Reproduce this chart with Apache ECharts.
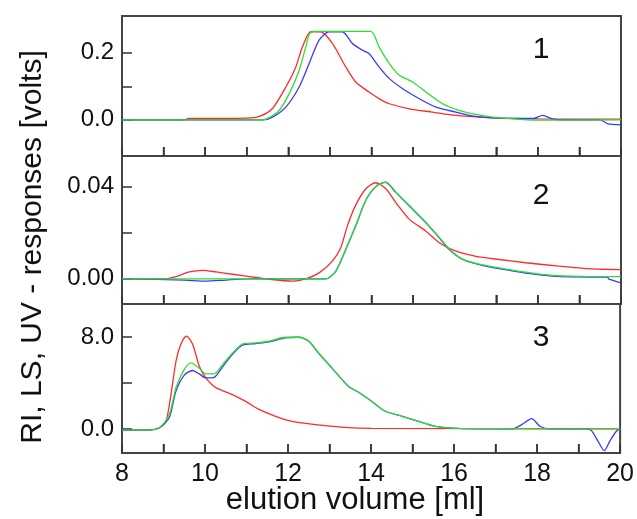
<!DOCTYPE html>
<html>
<head>
<meta charset="utf-8">
<script src="https://cdn.jsdelivr.net/npm/echarts@6/dist/echarts.min.js"></script>
<style>
html,body{margin:0;padding:0;background:#fff;}
#chart{width:637px;height:519px;background:#fff;}
</style>
</head>
<body>
<div id="chart"></div>
<script>
// ---- data (x = elution volume [ml], y = detector response) ----
var xTickStep = 1;
var xTickValues = [9,10,11,12,13,14,15,16,17,18,19];
var xLabelValues = [8,10,12,14,16,18,20];

var p1TickValues = [0, 0.1, 0.2];
var p1LabelValues = [0, 0.2];
var p2TickValues = [0, 0.02, 0.04];
var p2LabelValues = [0, 0.04];
var p3TickValues = [0, 4, 8];
var p3LabelValues = [0, 8];

var panelNames = ['1', '2', '3'];

var p1Red = [[8,0],[9.5,0],[9.6,0.004],[11.0,0.005],[11.3,0.01],[11.62,0.034],[11.94,0.098],[12.18,0.158],[12.34,0.218],[12.54,0.263],[12.78,0.263],[13.06,0.228],[13.38,0.158],[13.62,0.113],[13.94,0.083],[14.2,0.062],[14.43,0.048],[14.91,0.033],[15.47,0.023],[16.03,0.013],[16.91,0.006],[18,0.003],[20,0.002]];
var p1Green = [[8,0],[11.3,0],[11.46,0.002],[11.78,0.028],[12.06,0.088],[12.26,0.148],[12.42,0.218],[12.5,0.255],[12.6,0.264],[13.98,0.264],[14.18,0.218],[14.43,0.168],[14.67,0.133],[14.99,0.113],[15.31,0.083],[15.71,0.048],[16.11,0.028],[16.51,0.016],[16.91,0.008],[17.5,0.002],[17.87,-0.001],[20,0]];
var p1Blue = [[8,0],[11.4,0],[11.62,0.008],[11.94,0.038],[12.26,0.098],[12.5,0.168],[12.74,0.238],[12.98,0.263],[13.3,0.263],[13.54,0.228],[13.78,0.208],[13.94,0.198],[14.18,0.158],[14.43,0.123],[14.75,0.093],[15.15,0.063],[15.55,0.038],[16.03,0.023],[16.51,0.01],[17.07,0.005],[17.9,0.004],[18.11,0.013],[18.35,0.003],[18.6,0],[19.5,0],[19.67,-0.011],[20,-0.015]];

var p2Red = [[8,0],[9.0,0],[9.3,0.001],[9.62,0.003],[9.94,0.0037],[10.26,0.003],[10.66,0.002],[11.06,0.001],[11.46,0],[12.1,-0.001],[12.42,0],[12.74,0.0026],[13.06,0.0077],[13.26,0.0135],[13.42,0.023],[13.62,0.032],[13.86,0.039],[14.1,0.0417],[14.35,0.039],[14.59,0.033],[14.91,0.0258],[15.31,0.0207],[15.63,0.0157],[16.03,0.012],[16.51,0.0098],[17.07,0.0084],[17.71,0.007],[18.51,0.0055],[19.31,0.0043],[20,0.004]];
var p2Blue = [[8,0],[9.5,-0.0005],[10,-0.001],[10.5,-0.0005],[11,0],[12.9,0],[13.14,0.0033],[13.38,0.0127],[13.62,0.023],[13.86,0.034],[14.1,0.040],[14.33,0.042],[14.59,0.0374],[14.91,0.0316],[15.31,0.0243],[15.63,0.0178],[15.87,0.0127],[16.19,0.0084],[16.59,0.0062],[17.07,0.0044],[17.71,0.0025],[18.35,0.0012],[19.31,0.0008],[19.68,0.0008],[19.7,0],[20,-0.0017]];
var p2Green = [[8,0],[11,0],[12.9,0],[13.14,0.0033],[13.38,0.0127],[13.62,0.023],[13.86,0.034],[14.1,0.040],[14.35,0.042],[14.59,0.0376],[14.91,0.0318],[15.31,0.0245],[15.63,0.018],[15.87,0.013],[16.19,0.0086],[16.59,0.0064],[17.07,0.0048],[17.71,0.0029],[18.35,0.0015],[19.31,0.001],[20,0.001]];

var p3Red = [[8,-0.1],[8.6,-0.1],[8.9,0.1],[9.06,0.66],[9.18,3.0],[9.3,5.9],[9.42,7.4],[9.55,8.1],[9.7,7.4],[9.86,5.5],[10.02,4.45],[10.26,3.6],[10.66,3.0],[10.98,2.4],[11.3,1.7],[11.7,1.1],[12.1,0.66],[12.66,0.38],[13.46,0.11],[14.0,0.05],[20,0]];
var p3Blue = [[8,-0.1],[8.6,-0.1],[8.9,0.1],[9.14,1.0],[9.3,3.3],[9.5,4.7],[9.7,5.1],[9.86,4.8],[10.02,4.45],[10.22,4.5],[10.42,5.4],[10.66,6.5],[10.9,7.3],[11.22,7.45],[11.54,7.6],[11.94,7.95],[12.26,8.0],[12.5,7.65],[12.74,6.6],[13.06,5.3],[13.46,3.7],[13.7,3.2],[14.02,2.4],[14.34,1.54],[14.75,1.1],[15.15,0.66],[15.55,0.23],[16.1,0.05],[17.4,0],[17.63,0.38],[17.87,0.9],[18.07,0.23],[18.3,0],[19.2,0],[19.31,-0.15],[19.47,-1.08],[19.62,-1.9],[19.75,-1.08],[19.91,-0.2],[20,0]];
var p3Green = [[8,-0.1],[8.6,-0.1],[8.9,0.1],[9.14,1.25],[9.3,3.6],[9.5,5.2],[9.66,5.76],[9.86,5.3],[10.02,4.8],[10.22,4.8],[10.42,5.6],[10.66,6.6],[10.9,7.4],[11.22,7.5],[11.54,7.65],[11.94,8.0],[12.26,8.0],[12.5,7.65],[12.74,6.6],[13.06,5.3],[13.46,3.7],[13.7,3.2],[14.02,2.4],[14.34,1.54],[14.75,1.1],[15.15,0.66],[15.55,0.23],[16.1,0.05],[20,0]];

// ---- chart ----
var RED = '#ff2a2a', GREEN = '#2ee02e', BLUE = '#3a3aff';
var FONT = 'Liberation Sans, Arial, sans-serif';
var grids = [
  {left: 122, right: 16, top: 16, height: 140},
  {left: 122, right: 16, top: 156, height: 148},
  {left: 122, right: 16, top: 304, height: 149}
];
var yRanges = [[-0.108, 0.31], [-0.0109, 0.0533], [-2.1, 10.9]];
var yTicks = [p1TickValues, p2TickValues, p3TickValues];
var yLabels = [p1LabelValues, p2LabelValues, p3LabelValues];
var yDecimals = [1, 2, 1];

function mkX(i) {
  return {
    type: 'value', gridIndex: i, min: 8, max: 20, interval: xTickStep,
    axisLine: {show: true, onZero: false, lineStyle: {color: '#444', width: 2}},
    splitLine: {show: false},
    axisTick: {show: true, inside: true, length: 9, lineStyle: {color: '#333', width: 1.5}},
    axisLabel: {show: i === 2, fontFamily: FONT, fontSize: 25, color: '#111', margin: 9,
      formatter: function (v) { return xLabelValues.indexOf(Math.round(v)) >= 0 ? String(Math.round(v)) : ''; }}
  };
}
function mkY(i) {
  return {
    type: 'value', gridIndex: i, min: yRanges[i][0], max: yRanges[i][1],
    axisLine: {show: true, onZero: false, lineStyle: {color: '#444', width: 2}},
    splitLine: {show: false},
    axisTick: {show: true, inside: true, length: 10, customValues: yTicks[i], lineStyle: {color: '#333', width: 1.5}},
    axisLabel: {show: true, customValues: yLabels[i], fontFamily: FONT, fontSize: 24, color: '#111', margin: 8,
      formatter: function (v) { return Number(v).toFixed(yDecimals[i]); }}
  };
}
function mkS(i, data, color) {
  return {
    type: 'line', xAxisIndex: i, yAxisIndex: i, data: data, showSymbol: false,
    smooth: 0.25, lineStyle: {color: color, width: 1.3}, itemStyle: {color: color}
  };
}
// x tick marks along each panel's bottom edge, placed through the panel's own scales
function mkTicks(i) {
  return {
    type: 'custom', xAxisIndex: i, yAxisIndex: i, silent: true, z: 5,
    data: xTickValues.map(function (v) { return [v]; }),
    renderItem: function (params, api) {
      var p = api.coord([api.value(0), yRanges[i][0]]);
      return {
        type: 'line',
        shape: {x1: p[0], y1: p[1], x2: p[0], y2: p[1] - 9},
        style: {stroke: '#333', lineWidth: 1.5}
      };
    }
  };
}

var chart = echarts.init(document.getElementById('chart'), null, {renderer: 'canvas'});
chart.setOption({
  animation: false,
  grid: grids.map(function (g) {
    return Object.assign({show: true, borderColor: '#444', borderWidth: 2}, g);
  }),
  xAxis: [mkX(0), mkX(1), mkX(2)],
  yAxis: [mkY(0), mkY(1), mkY(2)],
  series: [
    mkS(0, p1Red, RED), mkS(0, p1Blue, BLUE), mkS(0, p1Green, GREEN),
    mkS(1, p2Red, RED), mkS(1, p2Blue, BLUE), mkS(1, p2Green, GREEN),
    mkS(2, p3Red, RED), mkS(2, p3Blue, BLUE), mkS(2, p3Green, GREEN),
    mkTicks(0), mkTicks(1), mkTicks(2)
  ],
  graphic: [
    {type: 'text', x: 541, y: 50, style: {text: panelNames[0], font: '30px ' + FONT, fill: '#111', textAlign: 'center', textVerticalAlign: 'middle'}},
    {type: 'text', x: 541, y: 196, style: {text: panelNames[1], font: '30px ' + FONT, fill: '#111', textAlign: 'center', textVerticalAlign: 'middle'}},
    {type: 'text', x: 541, y: 338, style: {text: panelNames[2], font: '30px ' + FONT, fill: '#111', textAlign: 'center', textVerticalAlign: 'middle'}},
    {type: 'text', x: 355, y: 500, style: {text: 'elution volume [ml]', font: '31px ' + FONT, fill: '#111', textAlign: 'center', textVerticalAlign: 'middle'}},
    {type: 'text', x: 33, y: 247, rotation: Math.PI / 2, style: {text: 'RI, LS, UV - responses [volts]', font: '30px ' + FONT, fill: '#111', textAlign: 'center', textVerticalAlign: 'middle'}}
  ]
});
</script>
</body>
</html>
